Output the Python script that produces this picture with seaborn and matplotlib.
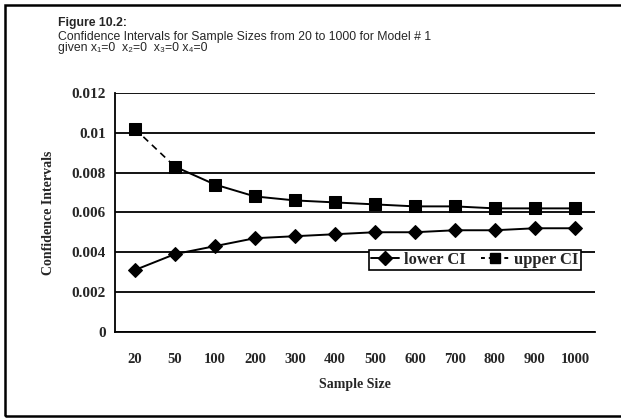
import matplotlib
matplotlib.use("Agg")
import matplotlib.pyplot as plt
from matplotlib.lines import Line2D
from matplotlib.patches import Rectangle
import seaborn as sns
import pandas as pd
import numpy as np

# Confidence interval bounds by sample size (Model # 1)
sample_sizes = [20, 50, 100, 200, 300, 400, 500, 600, 700, 800, 900, 1000]
lower_ci = [0.0031, 0.0039, 0.0043, 0.0047, 0.0048, 0.0049, 0.0050, 0.0050, 0.0051, 0.0051, 0.0052, 0.0052]
upper_ci = [0.0102, 0.0083, 0.0074, 0.0068, 0.0066, 0.0065, 0.0064, 0.0063, 0.0063, 0.0062, 0.0062, 0.0062]
y_ticks = [0, 0.002, 0.004, 0.006, 0.008, 0.01, 0.012]
y_tick_labels = ["0", "0.002", "0.004", "0.006", "0.008", "0.01", "0.012"]

sns.set_theme(style="white")
plt.rcParams["font.family"] = ["Liberation Serif", "DejaVu Serif"]

df = pd.DataFrame({
    "pos": np.arange(len(sample_sizes)),
    "size": [str(s) for s in sample_sizes],
    "lower": lower_ci,
    "upper": upper_ci,
})

fig = plt.figure(figsize=(6.21, 4.19), dpi=100)
ax = fig.add_axes([0.185, 0.2084, 0.773, 0.5696])

# horizontal gridlines
for t in y_ticks:
    ax.axhline(t, color="black", lw=1.3, zorder=1)

mk = dict(color="black", lw=1.4, zorder=3)
sns.lineplot(data=df, x="pos", y="lower", marker="D", markersize=7.5,
             markeredgecolor="black", ax=ax, **mk)
sns.lineplot(data=df.iloc[:2], x="pos", y="upper", ax=ax,
             color="black", lw=1.2, linestyle=(0, (4, 3)), zorder=3)
sns.lineplot(data=df.iloc[1:], x="pos", y="upper", ax=ax, **mk)
sns.lineplot(data=df, x="pos", y="upper", marker="s", markersize=8,
             markeredgecolor="black", color="black", lw=0, zorder=4, ax=ax)

ax.set_xlim(-0.5, len(sample_sizes) - 0.5)
ax.set_ylim(0, 0.012)
ax.set_xticks(df["pos"])
ax.set_xticklabels(df["size"], fontweight="bold", fontsize=10.5)
ax.set_yticks(y_ticks)
ax.set_yticklabels(y_tick_labels, fontweight="bold", fontsize=11)
ax.set_xticks(np.arange(-0.5, len(sample_sizes)), minor=True)
ax.tick_params(axis="x", which="major", length=0, pad=15)
ax.tick_params(axis="x", which="minor", length=4, direction="inout", width=1, color="black")
ax.tick_params(axis="y", which="major", length=5, direction="inout", width=1, color="black", pad=4)

for side in ["top", "right"]:
    ax.spines[side].set_visible(False)
for side in ["left", "bottom"]:
    ax.spines[side].set_color("black")
    ax.spines[side].set_linewidth(1.3)

ax.set_xlabel("Sample Size", fontweight="bold", fontsize=10, labelpad=9)
ax.set_ylabel("Confidence Intervals", fontweight="bold", fontsize=10, labelpad=12)

handles = [
    Line2D([], [], color="black", lw=1.4, marker="D", markersize=7),
    Line2D([], [], color="black", lw=1.4, marker="s", markersize=7, linestyle=(0, (2, 2))),
]
leg = ax.legend(handles, ["lower CI", "upper CI"], ncol=2, loc="lower left",
                bbox_to_anchor=(0.529, 0.258), borderaxespad=0, frameon=True, fancybox=False,
                framealpha=1, edgecolor="black", handlelength=1.7, handletextpad=0.3,
                columnspacing=0.9, borderpad=0.12, prop={"weight": "bold", "size": 12})
leg.get_frame().set_linewidth(1.2)
leg.set_zorder(5)

sans = ["Liberation Sans", "DejaVu Sans"]
fig.text(0.093, 0.945, "Figure 10.2:", fontsize=8.8, fontweight="bold", family=sans, va="center")
fig.text(0.093, 0.9265,
         "Confidence Intervals for Sample Sizes from 20 to 1000 for Model # 1\n"
         "given x\u2081=0  x\u2082=0  x\u2083=0 x\u2084=0",
         fontsize=8.8, family=sans, va="top", linespacing=0.88)

# outer frame of the figure panel
fig.patches.append(Rectangle((0.008, 0.007), 1.2, 0.981, transform=fig.transFigure,
                             fill=False, edgecolor="black", lw=1.8))

fig.savefig("out.png", dpi=100)
